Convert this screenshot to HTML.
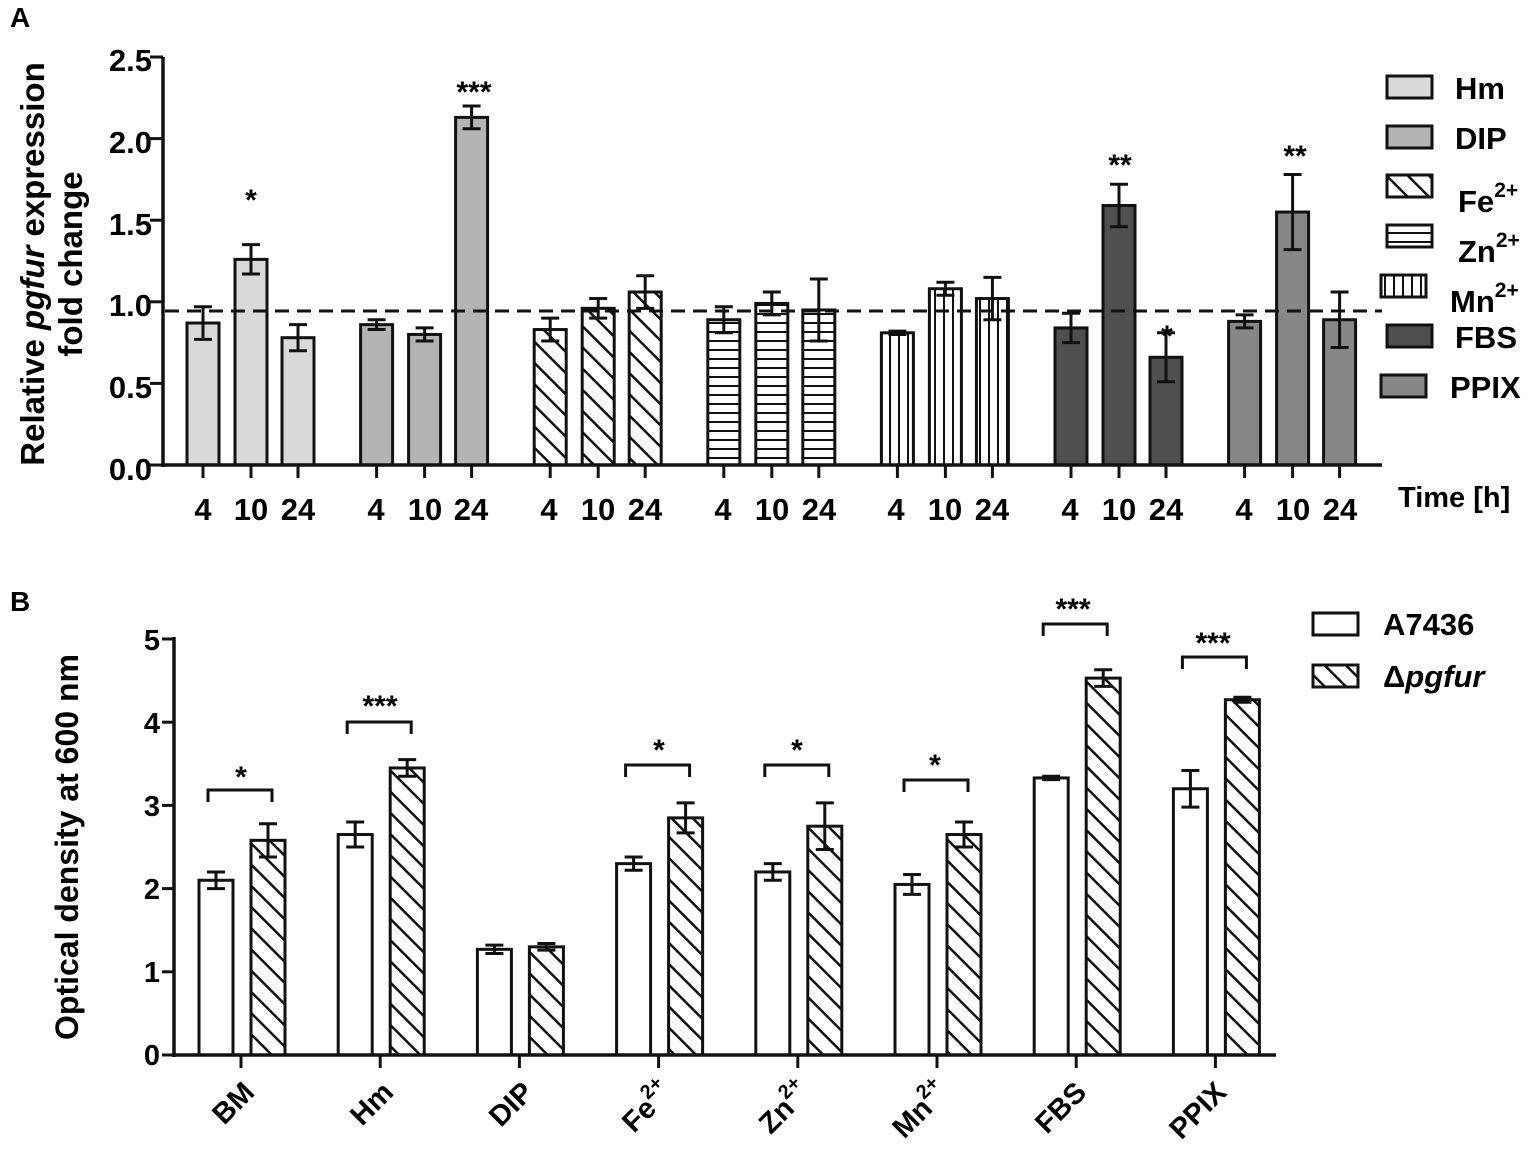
<!DOCTYPE html>
<html><head><meta charset="utf-8"><style>
html,body{margin:0;padding:0;background:#fff;}
svg{display:block;font-family:"Liberation Sans",Arial,sans-serif;font-weight:bold;}
</style></head><body>
<svg id="s" width="1535" height="1166" viewBox="0 0 1535 1166" xmlns="http://www.w3.org/2000/svg">
<defs>
<pattern id="diag" patternUnits="userSpaceOnUse" width="15" height="15" patternTransform="rotate(-45)"><rect width="15" height="15" fill="#fff"/><line x1="0" y1="0" x2="0" y2="15" stroke="#111" stroke-width="5"/></pattern>
<pattern id="horz" patternUnits="userSpaceOnUse" width="10" height="9"><rect width="10" height="9" fill="#fff"/><line x1="0" y1="8" x2="10" y2="8" stroke="#111" stroke-width="2"/></pattern>
<pattern id="vert" patternUnits="userSpaceOnUse" width="9" height="10"><rect width="9" height="10" fill="#fff"/><line x1="8" y1="0" x2="8" y2="10" stroke="#111" stroke-width="2"/></pattern>
</defs>
<g id="bars"></g>
<!-- Panel A text -->
<text x="10" y="27" font-size="28">A</text>
<g font-size="31" text-anchor="end">
<text x="152" y="71">2.5</text><text x="152" y="153">2.0</text><text x="152" y="235">1.5</text>
<text x="152" y="316">1.0</text><text x="152" y="398">0.5</text><text x="152" y="480">0.0</text>
</g>
<text transform="translate(44,264) rotate(-90)" font-size="33" text-anchor="middle">Relative <tspan font-style="italic">pgfur</tspan> expression</text>
<text transform="translate(82,264) rotate(-90)" font-size="33" text-anchor="middle">fold change</text>
<g font-size="31" text-anchor="middle">
<text x="203" y="520">4</text><text x="251" y="520">10</text><text x="298" y="520">24</text>
<text x="376" y="520">4</text><text x="425" y="520">10</text><text x="471" y="520">24</text>
<text x="549" y="520">4</text><text x="598" y="520">10</text><text x="645" y="520">24</text>
<text x="723" y="520">4</text><text x="772" y="520">10</text><text x="819" y="520">24</text>
<text x="896" y="520">4</text><text x="945" y="520">10</text><text x="992" y="520">24</text>
<text x="1070" y="520">4</text><text x="1119" y="520">10</text><text x="1166" y="520">24</text>
<text x="1244" y="520">4</text><text x="1293" y="520">10</text><text x="1340" y="520">24</text>
</g>
<text x="1398" y="507" font-size="29">Time [h]</text>
<g font-size="30" text-anchor="middle">
<text x="251" y="210">*</text><text x="474" y="102">***</text>
<text x="1120" y="175">**</text><text x="1167" y="346">*</text><text x="1295" y="166">**</text>
</g>
<g font-size="31">
<text x="1455" y="99">Hm</text><text x="1455" y="149">DIP</text>
<text x="1458" y="212">Fe<tspan font-size="21" dy="-15">2+</tspan></text>
<text x="1458" y="262">Zn<tspan font-size="21" dy="-15">2+</tspan></text>
<text x="1450" y="312">Mn<tspan font-size="21" dy="-15">2+</tspan></text>
<text x="1455" y="348">FBS</text><text x="1450" y="398">PPIX</text>
</g>
<!-- Panel B text -->
<text x="10" y="611" font-size="28">B</text>
<g font-size="29" text-anchor="end">
<text x="160" y="650">5</text><text x="160" y="733">4</text><text x="160" y="816">3</text>
<text x="160" y="899">2</text><text x="160" y="982">1</text><text x="160" y="1065">0</text>
</g>
<text transform="translate(78,847) rotate(-90)" font-size="32" text-anchor="middle">Optical density at 600 nm</text>
<g font-size="29" text-anchor="end">
<text transform="translate(256,1094) rotate(-45)">BM</text>
<text transform="translate(395,1094) rotate(-45)">Hm</text>
<text transform="translate(535,1094) rotate(-45)">DIP</text>
<text transform="translate(674,1094) rotate(-45)">Fe<tspan font-size="20" dy="-14">2+</tspan></text>
<text transform="translate(812,1094) rotate(-45)">Zn<tspan font-size="20" dy="-14">2+</tspan></text>
<text transform="translate(950,1094) rotate(-45)">Mn<tspan font-size="20" dy="-14">2+</tspan></text>
<text transform="translate(1088,1094) rotate(-45)">FBS</text>
<text transform="translate(1228,1094) rotate(-45)">PPIX</text>
</g>
<g font-size="30" text-anchor="middle">
<text x="241" y="787">*</text><text x="380" y="716">***</text><text x="659" y="760">*</text>
<text x="797" y="760">*</text><text x="935" y="775">*</text><text x="1073" y="619">***</text><text x="1213" y="653">***</text>
</g>
<g font-size="31">
<text x="1383" y="635">A7436</text>
<text x="1383" y="687">Δ<tspan font-style="italic">pgfur</tspan></text>
</g>
</svg>
<script>
(function(){
var g=document.getElementById('bars'),h='';
function L(x1,y1,x2,y2,w,d){h+='<line x1="'+x1+'" y1="'+y1+'" x2="'+x2+'" y2="'+y2+'" stroke="#111" stroke-width="'+(w||3)+'"'+(d?' stroke-dasharray="'+d+'"':'')+'/>';}
function R(x,y,w,hh,f,sw){h+='<rect x="'+x+'" y="'+y+'" width="'+w+'" height="'+hh+'" fill="'+f+'" stroke="#111" stroke-width="'+(sw||3)+'"/>';}
var y0=465,k=163.2,fills=['#d9d9d9','#b4b4b4','url(#diag)','url(#horz)','url(#vert)','#4f4f4f','#878787'];
var A=[[[.87,.1],[1.26,.09],[.78,.08]],[[.86,.03],[.80,.04],[2.13,.07]],[[.83,.07],[.96,.06],[1.06,.1]],[[.89,.08],[.99,.07],[.95,.19]],[[.81,.01],[1.08,.04],[1.02,.13]],[[.84,.09],[1.59,.13],[.66,.15]],[[.88,.04],[1.55,.23],[.89,.17]]];
for(var i=0;i<7;i++){var base=203+i*173.6;for(var j=0;j<3;j++){var c=base+[0,48,95][j],v=A[i][j][0],e=A[i][j][1];
R(c-16,y0-v*k,32,v*k,fills[i]);L(c,y0-(v+e)*k,c,y0-(v-e)*k);L(c-9,y0-(v+e)*k,c+9,y0-(v+e)*k);L(c-9,y0-(v-e)*k,c+9,y0-(v-e)*k);L(c,y0,c,y0+13);}}
L(163,57,163,467,3.5);L(161,y0,1382,y0,3.5);
for(var t=0;t<6;t++)L(150,y0-t*.5*k,163,y0-t*.5*k,3);
L(165,311,1382,311,3,'14,8');
var ly=[88,138,187,237,287,337,387];
for(var i=0;i<7;i++){var lx=(i==4||i==6)?1381:1387;R(lx,ly[i]-12,45,22,fills[i]);}
var b0=1055,kb=83.2;
var B=[[[2.1,.1],[2.58,.2]],[[2.65,.15],[3.45,.1]],[[1.27,.05],[1.3,.04]],[[2.3,.08],[2.85,.18]],[[2.2,.1],[2.75,.28]],[[2.05,.12],[2.65,.15]],[[3.33,.02],[4.53,.1]],[[3.2,.22],[4.27,.03]]];
var br=[790,722,765,765,780,624,657];
var bi=[0,1,3,4,5,6,7];
for(var i=0;i<8;i++){var c=241+i*139.2;for(var j=0;j<2;j++){var x=c+(j?27:-25),v=B[i][j][0],e=B[i][j][1];
R(x-17,b0-v*kb,34,v*kb,j?'url(#diag)':'#fff');L(x,b0-(v+e)*kb,x,b0-(v-e)*kb);L(x-9,b0-(v+e)*kb,x+9,b0-(v+e)*kb);L(x-9,b0-(v-e)*kb,x+9,b0-(v-e)*kb);}
L(c,b0,c,b0+13);}
for(var q=0;q<7;q++){var c=241+bi[q]*139.2,y=br[q];L(c-33,y,c+31,y);L(c-33,y-1.5,c-33,y+12);L(c+31,y-1.5,c+31,y+12);}
L(174,637,174,1057,3.5);L(172,b0,1276,b0,3.5);
for(var t=0;t<6;t++)L(162,b0-t*kb,174,b0-t*kb,3);
R(1313,613,45,22,'#fff');R(1313,665,45,22,'url(#diag)');
g.innerHTML=h;
})();
</script>
</body></html>
